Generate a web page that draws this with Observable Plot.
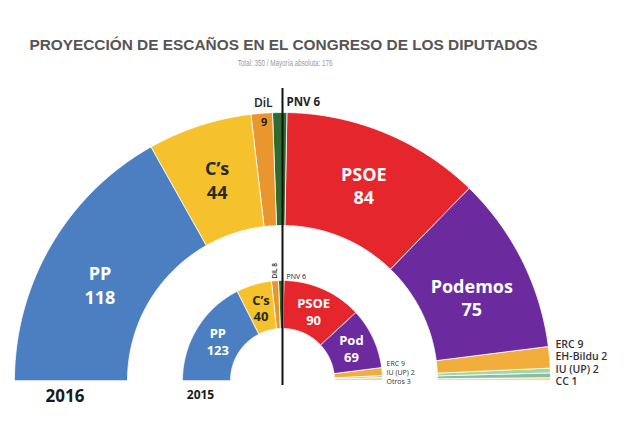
<!DOCTYPE html>
<html>
<head>
<meta charset="utf-8">
<script src="https://cdn.jsdelivr.net/npm/d3@7"></script>
<script src="https://cdn.jsdelivr.net/npm/@observablehq/plot@0.6"></script>
<style>
  body { margin: 0; background: #fff; width: 640px; height: 428px; overflow: hidden; position: relative; font-family: "Liberation Sans", Arial, sans-serif; }
  #title { position: absolute; left: 0; width: 567px; top: 36px; text-align: center; font-weight: bold; font-size: 15.4px; color: #555; white-space: nowrap; }
  #sub { position: absolute; left: 0; width: 571px; top: 58px; height: 12px; line-height: 12px; text-align: center; white-space: nowrap; }
  #sub span { display: inline-block; font-size: 8.5px; line-height: 10px; vertical-align: top; color: #9a9a9a; transform: scaleX(0.74); transform-origin: center; }
  #chart { position: absolute; left: 0; top: 80px; }
</style>
</head>
<body>
<div id="title">PROYECCIÓN DE ESCAÑOS EN EL CONGRESO DE LOS DIPUTADOS</div>
<div id="sub"><span>Total: 350 / Mayoría absoluta: 176</span></div>
<div id="chart"></div>
<script>
// ---- data ----
const parties2016 = ["PP", "C’s", "DiL", "PNV", "PSOE", "Podemos", "ERC", "EH-Bildu", "IU (UP)", "CC"];
const seats2016   = [118, 44, 9, 6, 84, 75, 9, 2, 2, 1];
const parties2015 = ["PP", "C’s", "DiL", "PNV", "PSOE", "Pod", "ERC", "IU (UP)", "Otros"];
const seats2015   = [123, 40, 8, 6, 90, 69, 9, 2, 3];
const yearLabels  = ["2016", "2015"];
const totalSeats  = 350;
const majority    = 176;

const partyColors = {
  "PP": "#4b7fc2", "C’s": "#f5c12c", "DiL": "#e9962f", "PNV": "#2f6b30",
  "PSOE": "#e5262c", "Podemos": "#6b2b9f", "Pod": "#6b2b9f",
  "ERC": "#f1ae3d", "EH-Bildu": "#a9d69a", "IU (UP)": "#86bcb2", "CC": "#f6dc86", "Otros": "#f2d8a8"
};

// ---- geometry (layout) ----
const OUT = {r0: 155, r1: 268};
const INN = {r0: 52, r1: 100};

function angleAt(cum, total) { return Math.PI * (1 - cum / total); }
function polar(a, r) { return {x: r * Math.cos(a), y: r * Math.sin(a)}; }

function ringPolys(parties, seats, geom, ring) {
  const total = d3.sum(seats);
  const pts = [], mids = [];
  let cum = 0;
  parties.forEach((p, i) => {
    const a0 = angleAt(cum, total), a1 = angleAt(cum + seats[i], total);
    const n = Math.max(2, Math.ceil((a0 - a1) / 0.01));
    const key = ring + "-" + p;
    for (let k = 0; k <= n; k++) {
      const a = a0 + (a1 - a0) * k / n;
      pts.push({key, color: partyColors[p], ...polar(a, geom.r1)});
    }
    for (let k = n; k >= 0; k--) {
      const a = a0 + (a1 - a0) * k / n;
      pts.push({key, color: partyColors[p], ...polar(a, geom.r0)});
    }
    mids.push((a0 + a1) / 2);
    cum += seats[i];
  });
  return {pts, mids};
}

const o = ringPolys(parties2016, seats2016, OUT, "2016");
const n = ringPolys(parties2015, seats2015, INN, "2015");

const outMidR = (OUT.r0 + OUT.r1) / 2, innMidR = (INN.r0 + INN.r1) / 2;
const big = (parties, seats, mids, idx, r, darkIdx) => idx.map(i => ({
  ...polar(mids[i], r), label: parties[i] + "\n" + seats[i], fill: i === darkIdx ? "#2a2a2a" : "#ffffff"
}));
const outerTop  = big(parties2016, seats2016, o.mids, [1, 4], outMidR, 1);
const outerSide = big(parties2016, seats2016, o.mids, [0, 5], outMidR, -1);
const innerMain = big(parties2015, seats2015, n.mids, [0, 1, 4, 5], innMidR, 1);

// small callouts
const dilOut = [{...polar(o.mids[2], OUT.r1 + 10), t: parties2016[2]}];
const dilOutVal = [{...polar(o.mids[2], OUT.r1 - 13), t: String(seats2016[2])}];
const majX = 0; // hemicycle center = majority line
const pnvOut = [{x: majX, y: polar(o.mids[3], OUT.r1 + 10).y, t: parties2016[3] + " " + seats2016[3]}];
const pnvInn = [{x: majX, y: polar(n.mids[3], INN.r1 + 4).y, t: parties2015[3] + " " + seats2015[3]}];
const dilInn = [{...polar(n.mids[2], INN.r1 + 10), t: parties2015[2] + " " + seats2015[2]}];
const smallOut = parties2016.slice(6).map((p, i) => ({x: OUT.r1, y: 36 - i * 12.5, t: p + " " + seats2016[6 + i]}));
const smallInn = parties2015.slice(6).map((p, i) => ({x: INN.r1, y: 17 - i * 9, t: p + " " + seats2015[6 + i]}));
const yearPos = [
  {x: -(OUT.r0 + OUT.r1) / 2, y: -16, t: yearLabels[0], s: 17},
  {x: -(INN.r0 + INN.r1) / 2, y: -15, t: yearLabels[1], s: 12}
];

const font = "Open Sans, Lato, sans-serif";

const chart = Plot.plot({
  width: 640, height: 348,
  marginTop: 0, marginRight: 0, marginBottom: 0, marginLeft: 0,
  x: {domain: [-282, 358], range: [0, 640], axis: null},
  y: {domain: [0, 300], range: [300, 0], axis: null},
  color: {type: "identity"},
  marks: [
    Plot.line(o.pts, {x: "x", y: "y", z: "key", fill: "color", stroke: "#ffffff", strokeWidth: 0.8, curve: "linear-closed"}),
    Plot.line(n.pts, {x: "x", y: "y", z: "key", fill: "color", stroke: "#ffffff", strokeWidth: 0.8, curve: "linear-closed"}),
    Plot.ruleX([majX], {y1: -5, y2: 292, stroke: "#111", strokeWidth: 2}),
    Plot.text(outerTop, {x: "x", y: "y", text: "label", fill: "fill", fontSize: 18, fontWeight: 700, lineHeight: 1.3, fontFamily: font}),
    Plot.text(outerSide, {x: "x", y: "y", text: "label", fill: "fill", fontSize: 18, fontWeight: 700, lineHeight: 1.3, fontFamily: font, dy: 11}),
    Plot.text(innerMain, {x: "x", y: "y", text: "label", fill: "fill", fontSize: 13, fontWeight: 700, lineHeight: 1.3, fontFamily: font}),
    Plot.text(dilOut, {x: "x", y: "y", text: "t", fill: "#222", fontSize: 12, fontWeight: 600, fontFamily: font, dx: 2}),
    Plot.text(dilOutVal, {x: "x", y: "y", text: "t", fill: "#222", fontSize: 11, fontWeight: 700, fontFamily: font, dx: 1, dy: -4}),
    Plot.text(pnvOut, {x: "x", y: "y", text: "t", fill: "#222", fontSize: 11.5, fontWeight: 700, fontFamily: font, textAnchor: "start", dx: 4}),
    Plot.text(pnvInn, {x: "x", y: "y", text: "t", fill: "#222", fontSize: 7, fontWeight: 400, fontFamily: font, textAnchor: "start", dx: 4}),
    Plot.text(dilInn, {x: "x", y: "y", text: "t", fill: "#222", fontSize: 6.5, fontWeight: 600, fontFamily: font, rotate: -90}),
    Plot.text(smallOut, {x: "x", y: "y", text: "t", fill: "#333", fontSize: 10.5, fontWeight: 600, fontFamily: font, textAnchor: "start", dx: 5}),
    Plot.text(smallInn, {x: "x", y: "y", text: "t", fill: "#333", fontSize: 7, fontWeight: 400, fontFamily: font, textAnchor: "start", dx: 4}),
    Plot.text(yearPos, {x: "x", y: "y", text: "t", fill: "#1a1a1a", fontSize: "s", fontWeight: 700, fontFamily: font, dx: -6})
  ]
});
document.getElementById("chart").appendChild(chart);
</script>
</body>
</html>
